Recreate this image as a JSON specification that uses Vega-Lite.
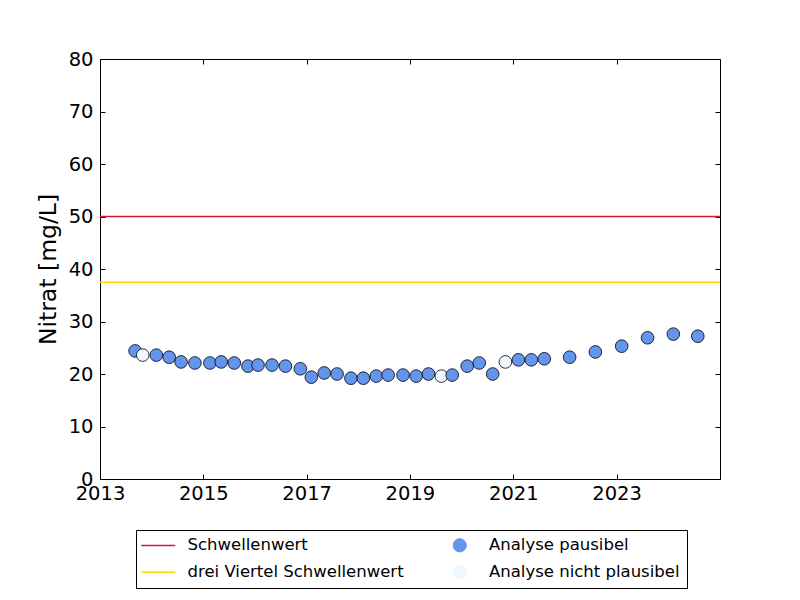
{
  "$schema": "https://vega.github.io/schema/vega-lite/v6.json",
  "width": 620,
  "height": 420,
  "autosize": {"type": "none"},
  "padding": {"left": 100, "top": 59, "right": 80, "bottom": 121},
  "background": "white",
  "config": {
    "font": "DejaVu Sans",
    "view": {"stroke": "black", "strokeWidth": 1},
    "axis": {
      "domain": false,
      "grid": false,
      "tickColor": "black",
      "tickSize": -5,
      "tickWidth": 1,
      "labelFontSize": 19.5,
      "labelColor": "black",
      "labelPadding": 12,
      "titleColor": "black",
      "titleFontWeight": "normal"
    },
    "legend": {
      "title": null,
      "orient": "none",
      "legendX": 36,
      "legendY": 471,
      "columns": 2,
      "strokeColor": "black",
      "fillColor": "white",
      "padding": 7,
      "labelFontSize": 16.5,
      "labelColor": "black",
      "labelLimit": 400,
      "labelOffset": 21,
      "symbolOffset": 7,
      "columnPadding": 40.5,
      "rowPadding": 9,
      "symbolSize": 1156,
      "symbolType": "circle"
    }
  },
  "datasets": {
    "schwellen": [
      {"Legende": "Schwellenwert", "Nitrat": 50},
      {"Legende": "drei Viertel Schwellenwert", "Nitrat": 37.5}
    ],
    "messungen": [
      {"Datum": "2013-09-06", "Nitrat": 24.4, "Legende": "Analyse pausibel"},
      {"Datum": "2013-10-30", "Nitrat": 23.6, "Legende": "Analyse nicht plausibel"},
      {"Datum": "2014-02-03", "Nitrat": 23.6, "Legende": "Analyse pausibel"},
      {"Datum": "2014-05-05", "Nitrat": 23.2, "Legende": "Analyse pausibel"},
      {"Datum": "2014-07-28", "Nitrat": 22.3, "Legende": "Analyse pausibel"},
      {"Datum": "2014-11-03", "Nitrat": 22.1, "Legende": "Analyse pausibel"},
      {"Datum": "2015-02-17", "Nitrat": 22.1, "Legende": "Analyse pausibel"},
      {"Datum": "2015-05-08", "Nitrat": 22.3, "Legende": "Analyse pausibel"},
      {"Datum": "2015-08-08", "Nitrat": 22.1, "Legende": "Analyse pausibel"},
      {"Datum": "2015-11-13", "Nitrat": 21.5, "Legende": "Analyse pausibel"},
      {"Datum": "2016-01-23", "Nitrat": 21.7, "Legende": "Analyse pausibel"},
      {"Datum": "2016-05-01", "Nitrat": 21.7, "Legende": "Analyse pausibel"},
      {"Datum": "2016-08-04", "Nitrat": 21.5, "Legende": "Analyse pausibel"},
      {"Datum": "2016-11-17", "Nitrat": 21.0, "Legende": "Analyse pausibel"},
      {"Datum": "2017-02-03", "Nitrat": 19.4, "Legende": "Analyse pausibel"},
      {"Datum": "2017-05-05", "Nitrat": 20.2, "Legende": "Analyse pausibel"},
      {"Datum": "2017-08-04", "Nitrat": 20.0, "Legende": "Analyse pausibel"},
      {"Datum": "2017-11-10", "Nitrat": 19.2, "Legende": "Analyse pausibel"},
      {"Datum": "2018-02-06", "Nitrat": 19.2, "Legende": "Analyse pausibel"},
      {"Datum": "2018-05-08", "Nitrat": 19.6, "Legende": "Analyse pausibel"},
      {"Datum": "2018-07-31", "Nitrat": 19.8, "Legende": "Analyse pausibel"},
      {"Datum": "2018-11-13", "Nitrat": 19.8, "Legende": "Analyse pausibel"},
      {"Datum": "2019-02-14", "Nitrat": 19.6, "Legende": "Analyse pausibel"},
      {"Datum": "2019-05-12", "Nitrat": 20.0, "Legende": "Analyse pausibel"},
      {"Datum": "2019-08-11", "Nitrat": 19.6, "Legende": "Analyse nicht plausibel"},
      {"Datum": "2019-10-27", "Nitrat": 19.8, "Legende": "Analyse pausibel"},
      {"Datum": "2020-02-10", "Nitrat": 21.5, "Legende": "Analyse pausibel"},
      {"Datum": "2020-05-05", "Nitrat": 22.1, "Legende": "Analyse pausibel"},
      {"Datum": "2020-08-08", "Nitrat": 20.0, "Legende": "Analyse pausibel"},
      {"Datum": "2020-11-06", "Nitrat": 22.3, "Legende": "Analyse nicht plausibel"},
      {"Datum": "2021-02-06", "Nitrat": 22.7, "Legende": "Analyse pausibel"},
      {"Datum": "2021-05-08", "Nitrat": 22.7, "Legende": "Analyse pausibel"},
      {"Datum": "2021-08-08", "Nitrat": 22.9, "Legende": "Analyse pausibel"},
      {"Datum": "2022-02-03", "Nitrat": 23.2, "Legende": "Analyse pausibel"},
      {"Datum": "2022-08-04", "Nitrat": 24.2, "Legende": "Analyse pausibel"},
      {"Datum": "2023-02-06", "Nitrat": 25.3, "Legende": "Analyse pausibel"},
      {"Datum": "2023-08-08", "Nitrat": 26.9, "Legende": "Analyse pausibel"},
      {"Datum": "2024-02-06", "Nitrat": 27.6, "Legende": "Analyse pausibel"},
      {"Datum": "2024-07-28", "Nitrat": 27.2, "Legende": "Analyse pausibel"}
    ]
  },
  "layer": [
    {
      "data": {"name": "schwellen"},
      "mark": {"type": "rule", "strokeWidth": 1.5},
      "encoding": {
        "y": {
          "field": "Nitrat",
          "type": "quantitative",
          "scale": {"domain": [0, 80], "nice": false},
          "axis": {
            "orient": "left",
            "values": [0, 10, 20, 30, 40, 50, 60, 70, 80],
            "title": "Nitrat [mg/L]",
            "titleFontSize": 23.5,
            "titlePadding": 8
          }
        },
        "color": {
          "field": "Legende",
          "type": "nominal",
          "scale": {
            "domain": ["Schwellenwert", "drei Viertel Schwellenwert", "Analyse pausibel", "Analyse nicht plausibel"],
            "range": ["#dc143c", "#ffd700", "#6495ed", "#f0f8ff"]
          },
          "legend": {
            "encode": {
              "symbols": {
                "update": {
                  "shape": {"signal": "(datum.value === 'Schwellenwert' || datum.value === 'drei Viertel Schwellenwert') ? 'stroke' : 'circle'"},
                  "size": {"signal": "(datum.value === 'Schwellenwert' || datum.value === 'drei Viertel Schwellenwert') ? 1156 : 175"},
                  "stroke": {"signal": "datum.value === 'Schwellenwert' ? '#dc143c' : (datum.value === 'drei Viertel Schwellenwert' ? '#ffd700' : '#000000')"},
                  "fill": {"signal": "datum.value === 'Analyse pausibel' ? '#6495ed' : (datum.value === 'Analyse nicht plausibel' ? '#f0f8ff' : 'transparent')"},
                  "strokeWidth": {"signal": "(datum.value === 'Schwellenwert' || datum.value === 'drei Viertel Schwellenwert') ? 1.5 : 1"},
                  "opacity": {"value": 1},
                  "fillOpacity": {"value": 1},
                  "strokeOpacity": {"value": 1}
                }
              }
            }
          }
        }
      }
    },
    {
      "data": {"name": "messungen"},
      "mark": {"type": "point", "filled": true, "size": 160, "stroke": "black", "strokeWidth": 0.8, "opacity": 1},
      "encoding": {
        "x": {
          "field": "Datum",
          "type": "temporal",
          "scale": {"domain": [{"year": 2013, "month": 1, "date": 1}, {"year": 2025, "month": 1, "date": 1}], "nice": false},
          "axis": {
            "orient": "bottom",
            "values": [{"year": 2013}, {"year": 2015}, {"year": 2017}, {"year": 2019}, {"year": 2021}, {"year": 2023}],
            "format": "%Y",
            "title": null,
            "labelFlush": false,
            "labelPadding": 10
          }
        },
        "y": {"field": "Nitrat", "type": "quantitative", "axis": null},
        "color": {
          "field": "Legende",
          "type": "nominal",
          "scale": {
            "domain": ["Schwellenwert", "drei Viertel Schwellenwert", "Analyse pausibel", "Analyse nicht plausibel"],
            "range": ["#dc143c", "#ffd700", "#6495ed", "#f0f8ff"]
          },
          "legend": {
            "encode": {
              "symbols": {
                "update": {
                  "shape": {"signal": "(datum.value === 'Schwellenwert' || datum.value === 'drei Viertel Schwellenwert') ? 'stroke' : 'circle'"},
                  "size": {"signal": "(datum.value === 'Schwellenwert' || datum.value === 'drei Viertel Schwellenwert') ? 1156 : 175"},
                  "stroke": {"signal": "datum.value === 'Schwellenwert' ? '#dc143c' : (datum.value === 'drei Viertel Schwellenwert' ? '#ffd700' : '#000000')"},
                  "fill": {"signal": "datum.value === 'Analyse pausibel' ? '#6495ed' : (datum.value === 'Analyse nicht plausibel' ? '#f0f8ff' : 'transparent')"},
                  "strokeWidth": {"signal": "(datum.value === 'Schwellenwert' || datum.value === 'drei Viertel Schwellenwert') ? 1.5 : 1"},
                  "opacity": {"value": 1},
                  "fillOpacity": {"value": 1},
                  "strokeOpacity": {"value": 1}
                }
              }
            }
          }
        }
      }
    },
    {
      "data": {"name": "messungen"},
      "mark": {"type": "point", "opacity": 0},
      "encoding": {
        "x": {
          "field": "Datum",
          "type": "temporal",
          "axis": {
            "orient": "top",
            "values": [{"year": 2013}, {"year": 2015}, {"year": 2017}, {"year": 2019}, {"year": 2021}, {"year": 2023}],
            "labels": false,
            "title": null
          }
        },
        "y": {
          "field": "Nitrat",
          "type": "quantitative",
          "axis": {
            "orient": "right",
            "values": [0, 10, 20, 30, 40, 50, 60, 70, 80],
            "labels": false,
            "title": null
          }
        }
      }
    }
  ],
  "resolve": {"axis": {"x": "independent", "y": "independent"}}
}
